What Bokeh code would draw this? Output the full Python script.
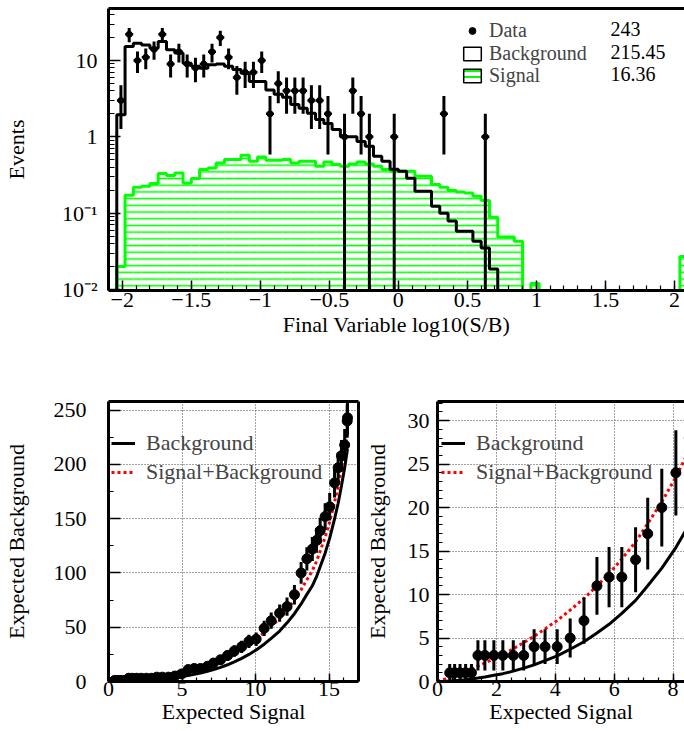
import math
from bokeh.plotting import figure
from bokeh.models import (LinearAxis, FixedTicker, SingleIntervalTicker, Legend,
                          LegendItem, Label, Range1d)
from bokeh.layouts import column, row
from bokeh.embed import file_html
from bokeh.resources import INLINE

# ---------------- data ----------------
# histogram binning: 70 bins of width 0.06 starting at -2.1
bin_lo = -2.1
bin_width = 0.06
n_bins = 70

background = [0, 1.95, 15.2, 16.8, 16.0, 14.5, 17.7, 13.8, 12.5, 9.2,
              8.4, 7.9, 8.8, 9.0, 8.4, 7.6, 6.8, 5.3, 5.3, 4.1,
              3.6, 3.3, 2.66, 2.36, 2.03, 1.69, 1.5, 1.25, 1.0, 1.0,
              0.87, 0.75, 0.556, 0.48, 0.376, 0.354, 0.287, 0.194, 0.194, 0.123,
              0.10, 0.079, 0.058, 0.058, 0.043, 0.035, 0.0185, 0, 0, 0,
              0, 0, 0, 0, 0, 0, 0, 0, 0, 0,
              0, 0, 0, 0, 0, 0, 0, 0, 0, 0]

signal = [0, 0.020, 0.172, 0.219, 0.225, 0.245, 0.33, 0.311, 0.336, 0.249,
          0.284, 0.372, 0.391, 0.455, 0.503, 0.503, 0.573, 0.478, 0.545, 0.493,
          0.493, 0.503, 0.455, 0.478, 0.478, 0.412, 0.468, 0.433, 0.412, 0.441,
          0.468, 0.441, 0.412, 0.372, 0.354, 0.354, 0.354, 0.305, 0.305, 0.237,
          0.219, 0.198, 0.19, 0.184, 0.167, 0.147, 0.0887, 0.0486, 0.0486, 0.043,
          0, 0.012, 0, 0, 0, 0, 0, 0, 0, 0,
          0, 0, 0, 0, 0, 0, 0, 0, 0, 0.027]

data = [0, 3, 22, 10, 11, 14, 22, 9, 13, 9,
        8, 9, 13, 20, 11, 6, 7, 7, 10, 2,
        5, 4, 4, 4, 3, 3, 2, 0, 1, 4,
        2, 1, 0, 0, 1, 0, 0, 0, 0, 0,
        2, 0, 0, 0, 0, 1, 0, 0, 0, 0,
        0, 0, 0, 0, 0, 0, 0, 0, 0, 0,
        0, 0, 0, 0, 0, 0, 0, 0, 0, 0]

legend_names = ["Data", "Background", "Signal"]
legend_totals = ["243", "215.45", "16.36"]

FONT = "Liberation Serif"
GREEN = "#00ff00"
FLOOR = 1e-4

edges = [bin_lo + bin_width * i for i in range(n_bins + 1)]
centers = [bin_lo + bin_width * (i + 0.5) for i in range(n_bins)]


def step_xy(vals):
    xs, ys = [edges[0]], [FLOOR]
    for i, v in enumerate(vals):
        vv = v if v > 0 else FLOOR
        xs += [edges[i], edges[i + 1]]
        ys += [vv, vv]
    xs.append(edges[-1])
    ys.append(FLOOR)
    return xs, ys


def style_axis(ax, maj, mnr, size="22px"):
    ax.axis_line_width = 3
    ax.axis_line_color = "black"
    ax.major_tick_in = maj
    ax.major_tick_out = 0
    ax.minor_tick_in = mnr
    ax.minor_tick_out = 0
    ax.major_tick_line_width = 1.5
    ax.minor_tick_line_width = 1.2
    ax.major_label_text_font = FONT
    ax.major_label_text_font_size = size
    ax.major_label_text_color = "black"
    ax.axis_label_text_font = FONT
    ax.axis_label_text_font_size = size
    ax.axis_label_text_font_style = "normal"
    ax.axis_label_text_color = "black"


def border_axis(p, side):
    ax = LinearAxis(ticker=FixedTicker(ticks=[]), axis_line_width=3,
                    axis_line_color="black", major_label_text_font_size="0px",
                    major_tick_line_color=None, minor_tick_line_color=None,
                    major_label_standoff=0)
    p.add_layout(ax, side)


# ---------------- top panel ----------------
p = figure(width=684, height=350, x_range=Range1d(-2.1, 2.073),
           y_range=Range1d(0.0097, 48), y_axis_type="log",
           output_backend="svg", toolbar_location=None,
           min_border_left=104, min_border_right=0, min_border_top=8,
           min_border_bottom=60)
p.outline_line_color = None
p.grid.visible = False
p.background_fill_color = "white"
p.border_fill_color = "white"

# signal: hatched area + outline
sig_top = [v if v > 0 else FLOOR for v in signal]
p.quad(left=edges[:-1], right=edges[1:], bottom=[FLOOR] * n_bins, top=sig_top,
       fill_alpha=0, line_color=None, hatch_pattern="horizontal_line",
       hatch_color=GREEN, hatch_scale=6.7, hatch_weight=1.6)
sx, sy = step_xy(signal)
p.line(sx, sy, line_color=GREEN, line_width=3)

# background outline
bx, by = step_xy(background)
p.line(bx, by, line_color="black", line_width=3)

# data points with sqrt(n) errors
dx, dy, dlo, dhi = [], [], [], []
for c, n in zip(centers, data):
    if n > 0:
        e = math.sqrt(n)
        dx.append(c)
        dy.append(n)
        dlo.append(max(n - e, FLOOR))
        dhi.append(n + e)
p.segment(x0=dx, x1=dx, y0=dlo, y1=dhi, line_color="black", line_width=3)
p.scatter(dx, dy, marker="dash", size=8, line_color="black", line_width=2.5)
r_data = p.scatter(dx, dy, marker="circle", size=6, fill_color="black",
                   line_color="black")

# dummy renderers (outside the view) for legend boxes
r_bkg = p.quad(left=[3.0], right=[3.1], bottom=[1], top=[2], fill_color="white",
               line_color="black", line_width=1.5)
r_sig = p.quad(left=[3.0], right=[3.1], bottom=[1], top=[2], fill_color="white",
               line_color="black", line_width=1.5, hatch_pattern="horizontal_line",
               hatch_color=GREEN, hatch_scale=6, hatch_weight=2)

# one legend per row so that the row pitch matches the reference
leg_rows_y = [247.5, 225, 202.5]
for name, rend, ly in zip(legend_names, [r_data, r_bkg, r_sig], leg_rows_y):
    leg = Legend(items=[LegendItem(label=name, renderers=[rend])],
                 location=(353, ly), orientation="vertical",
                 glyph_width=22, glyph_height=17, label_standoff=6,
                 label_text_font=FONT, label_text_font_size="20px",
                 label_height=24, spacing=0, padding=0, margin=0,
                 border_line_color=None, background_fill_alpha=0)
    p.add_layout(leg)
for t, ly in zip(legend_totals, [261.5, 239, 216.5]):
    p.add_layout(Label(x=502, y=ly, x_units="screen", y_units="screen",
                       text=t, text_font=FONT, text_font_size="20px",
                       text_baseline="middle", text_align="left",
                       text_color="black"))

p.xaxis.ticker = SingleIntervalTicker(interval=0.5, num_minor_ticks=5)
p.xaxis.axis_label = "Final Variable log10(S/B)"
style_axis(p.xaxis[0], 10, 5)
p.xaxis.major_label_standoff = 2
p.xaxis.axis_label_standoff = 2

minor = [k * 10.0 ** e for e in range(-3, 2) for k in range(2, 10)]
p.yaxis.ticker = FixedTicker(ticks=[0.01, 0.1, 1, 10], minor_ticks=minor)
p.yaxis.major_label_overrides = {0.01: "10\u207b\u00b2", 0.1: "10\u207b\u00b9",
                                 1: "1", 10: "10"}
p.yaxis.axis_label = "Events"
style_axis(p.yaxis[0], 12, 6)
p.yaxis.major_label_standoff = 11
p.yaxis.axis_label_standoff = 30
border_axis(p, "above")

# ---------------- cumulative curves (bins ordered by decreasing S/B) ----------------
cum_s, cum_b, cum_sb = [0.0], [0.0], [0.0]
pt_s, pt_d = [], []
s_acc = b_acc = d_acc = 0.0
for i in range(n_bins - 1, -1, -1):
    if signal[i] == 0 and background[i] == 0 and data[i] == 0:
        continue
    s_acc += signal[i]
    b_acc += background[i]
    d_acc += data[i]
    cum_s.append(s_acc)
    cum_b.append(b_acc)
    cum_sb.append(s_acc + b_acc)
    if d_acc > 0:
        pt_s.append(s_acc)
        pt_d.append(d_acc)
pt_lo = [d - math.sqrt(d) for d in pt_d]
pt_hi = [d + math.sqrt(d) for d in pt_d]


def bottom_panel(width, border_left, border_right, xr, yr, xint, xminor, yint,
                 yminor, ystand, ylabstand, legx):
    q = figure(width=width, height=381, x_range=Range1d(*xr), y_range=Range1d(*yr),
               output_backend="svg", toolbar_location=None,
               min_border_left=border_left, min_border_right=border_right,
               min_border_top=51, min_border_bottom=50)
    q.outline_line_color = None
    q.background_fill_color = "white"
    q.border_fill_color = "white"
    q.xaxis.ticker = SingleIntervalTicker(interval=xint, num_minor_ticks=xminor)
    q.yaxis.ticker = SingleIntervalTicker(interval=yint, num_minor_ticks=yminor)
    q.grid.grid_line_color = "#444444"
    q.grid.grid_line_dash = "1 2"
    q.grid.grid_line_width = 1
    rb = q.line(cum_s, cum_b, line_color="black", line_width=3)
    rsb = q.line(cum_s, cum_sb, line_color="#ff0000", line_width=3,
                 line_dash="3 3")
    q.segment(x0=pt_s, x1=pt_s, y0=pt_lo, y1=pt_hi, line_color="black",
              line_width=3)
    q.scatter(pt_s, pt_d, marker="circle", size=10, fill_color="black",
              line_color="black")
    lg = Legend(items=[LegendItem(label="Background", renderers=[rb]),
                       LegendItem(label="Signal+Background", renderers=[rsb])],
                location=(legx, 196), glyph_width=24, glyph_height=20,
                label_standoff=11, label_text_font=FONT,
                label_text_font_size="22px", label_height=24, spacing=3,
                padding=0, margin=0, border_line_color=None,
                background_fill_alpha=0)
    q.add_layout(lg)
    q.xaxis.axis_label = "Expected Signal"
    q.yaxis.axis_label = "Expected Background"
    style_axis(q.xaxis[0], 8, 4)
    style_axis(q.yaxis[0], 12, 5)
    q.xaxis.major_label_standoff = 0
    q.xaxis.axis_label_standoff = 0
    q.yaxis.major_label_standoff = ystand
    q.yaxis.axis_label_standoff = ylabstand
    border_axis(q, "above")
    return q


p_bl = bottom_panel(361, 104, 3, (0, 17), (0, 258), 5, 5, 50, 2, 22, 22, 3)
border_axis(p_bl, "right")
p_br = bottom_panel(323, 72, 0, (0, 8.39), (0, 32.2), 2, 4, 5, 5, 8, 15, 4)

layout = column(p, row(p_bl, p_br))
open("out.html", "w").write(file_html(layout, INLINE))
